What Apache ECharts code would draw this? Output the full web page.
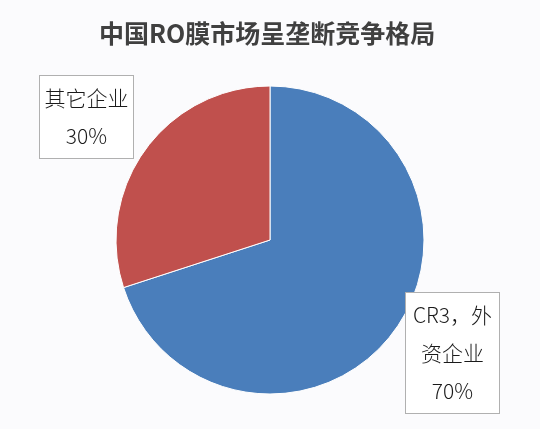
<!DOCTYPE html>
<html><head><meta charset="utf-8">
<script src="https://cdn.jsdelivr.net/npm/echarts@6/dist/echarts.min.js"></script>
<style>html,body{margin:0;padding:0;background:#fbfbfd;}#c{width:540px;height:429px;}</style>
</head><body><div id="c"></div>
<script>
const categories = ['CR3，外资企业', '其它企业'];
const labelTexts = ['CR3，外\n资企业', '其它企业'];
const values = [70, 30];
const colors = ['#4a7ebb', '#c0504d'];

const chart = echarts.init(document.getElementById('c'));
chart.setOption({
  backgroundColor: '#fbfbfd',
  title: {
    text: '中国RO膜市场呈垄断竞争格局',
    left: 94, top: 16,
    textStyle: {fontFamily: 'Noto Sans CJK SC', fontWeight: 'bold', fontSize: 25, color: '#404040'}
  },
  series: [{
    type: 'pie',
    center: [270, 240],
    radius: 154,
    startAngle: 90,
    clockwise: true,
    data: categories.map((c, i) => ({name: c, value: values[i], itemStyle: {color: colors[i]}})),
    itemStyle: {borderColor: '#ffffff', borderWidth: 1},
    labelLine: {show: false},
    label: {
      show: true,
      position: 'outside',
      formatter: p => labelTexts[p.dataIndex] + '\n' + p.percent + '%',
      fontFamily: 'Noto Sans CJK SC',
      fontWeight: 300,
      fontSize: 21,
      color: '#1a1a1a',
      lineHeight: 38,
      align: 'center',
      backgroundColor: '#ffffff',
      borderColor: '#b0b0b0',
      borderWidth: 1,
      width: 89,
      padding: [3, 2, 3, 2]
    },
    labelLayout: p => p.dataIndex === 0
      ? {x: 452.5, y: 293, align: 'center', verticalAlign: 'top'}
      : {x: 86.5, y: 76, align: 'center', verticalAlign: 'top'}
  }]
});
</script></body></html>
